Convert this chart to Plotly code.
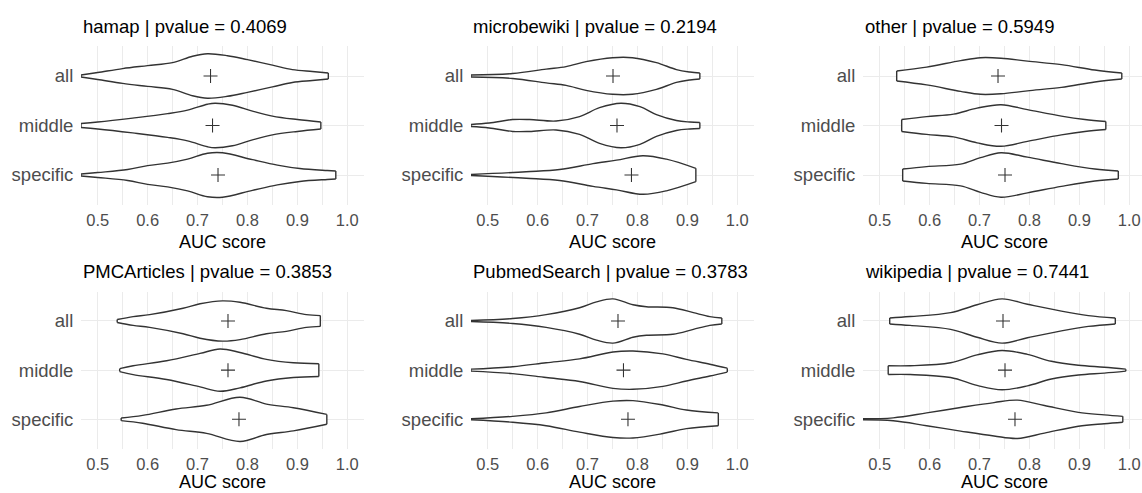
import plotly.graph_objects as go

# ---------------- data ----------------
panels = ["hamap", "microbewiki", "other", "PMCArticles", "PubmedSearch", "wikipedia"]
pvalues = ["0.4069", "0.2194", "0.5949", "0.3853", "0.3783", "0.7441"]
groups = ["all", "middle", "specific"]
group_pos = [3, 2, 1]
x_ticks = [0.5, 0.6, 0.7, 0.8, 0.9, 1.0]
x_tick_labels = ["0.5", "0.6", "0.7", "0.8", "0.9", "1.0"]

# violin outlines: AUC grid and half-width (in category units)
hamap_all_auc = [0.4665, 0.50, 0.55, 0.60, 0.65, 0.69, 0.72, 0.76, 0.80, 0.85, 0.89, 0.93, 0.962]
hamap_all_w = [0.02, 0.07, 0.15, 0.21, 0.27, 0.40, 0.45, 0.41, 0.33, 0.22, 0.13, 0.09, 0.06]
hamap_middle_auc = [0.4665, 0.50, 0.57, 0.64, 0.68, 0.72, 0.735, 0.77, 0.81, 0.85, 0.90, 0.947]
hamap_middle_w = [0.04, 0.07, 0.15, 0.24, 0.31, 0.43, 0.45, 0.41, 0.29, 0.19, 0.12, 0.07]
hamap_specific_auc = [0.4665, 0.50, 0.56, 0.60, 0.64, 0.68, 0.72, 0.75, 0.81, 0.86, 0.905, 0.96, 0.977]
hamap_specific_w = [0.02, 0.05, 0.11, 0.19, 0.24, 0.32, 0.44, 0.45, 0.31, 0.20, 0.13, 0.09, 0.08]

microbewiki_all_auc = [0.4665, 0.55, 0.617, 0.657, 0.697, 0.75, 0.79, 0.838, 0.878, 0.905, 0.925]
microbewiki_all_w = [0.02, 0.05, 0.14, 0.19, 0.29, 0.37, 0.37, 0.27, 0.13, 0.08, 0.06]
microbewiki_middle_auc = [0.4665, 0.503, 0.55, 0.584, 0.637, 0.684, 0.724, 0.767, 0.805, 0.838, 0.878, 0.905, 0.925]
microbewiki_middle_w = [0.02, 0.05, 0.12, 0.12, 0.09, 0.18, 0.36, 0.45, 0.38, 0.22, 0.10, 0.07, 0.06]
microbewiki_specific_auc = [0.4665, 0.577, 0.644, 0.711, 0.758, 0.811, 0.858, 0.917]
microbewiki_specific_w = [0.01, 0.065, 0.11, 0.23, 0.30, 0.39, 0.32, 0.135]

other_all_auc = [0.534, 0.594, 0.662, 0.702, 0.743, 0.796, 0.864, 0.931, 0.985]
other_all_w = [0.10, 0.18, 0.31, 0.37, 0.36, 0.30, 0.23, 0.12, 0.06]
other_middle_auc = [0.544, 0.594, 0.648, 0.695, 0.743, 0.796, 0.864, 0.911, 0.953]
other_middle_w = [0.12, 0.18, 0.23, 0.35, 0.42, 0.32, 0.19, 0.12, 0.08]
other_specific_auc = [0.546, 0.594, 0.662, 0.702, 0.743, 0.796, 0.864, 0.931, 0.978]
other_specific_w = [0.12, 0.17, 0.22, 0.35, 0.45, 0.36, 0.23, 0.12, 0.08]

PMCArticles_all_auc = [0.539, 0.571, 0.604, 0.671, 0.705, 0.75, 0.785, 0.838, 0.878, 0.918, 0.946]
PMCArticles_all_w = [0.03, 0.09, 0.13, 0.26, 0.35, 0.41, 0.38, 0.26, 0.21, 0.13, 0.11]
PMCArticles_middle_auc = [0.544, 0.571, 0.638, 0.705, 0.745, 0.785, 0.838, 0.892, 0.943]
PMCArticles_middle_w = [0.03, 0.09, 0.19, 0.34, 0.43, 0.36, 0.22, 0.15, 0.13]
PMCArticles_specific_auc = [0.547, 0.59, 0.657, 0.718, 0.785, 0.838, 0.892, 0.959]
PMCArticles_specific_w = [0.027, 0.08, 0.21, 0.285, 0.45, 0.31, 0.235, 0.10]

PubmedSearch_all_auc = [0.4665, 0.55, 0.617, 0.684, 0.718, 0.751, 0.791, 0.818, 0.871, 0.912, 0.945, 0.969]
PubmedSearch_all_w = [0.01, 0.05, 0.13, 0.27, 0.39, 0.45, 0.33, 0.29, 0.27, 0.17, 0.09, 0.06]
PubmedSearch_middle_auc = [0.4665, 0.55, 0.617, 0.684, 0.751, 0.791, 0.851, 0.898, 0.945, 0.98]
PubmedSearch_middle_w = [0.02, 0.07, 0.15, 0.23, 0.37, 0.39, 0.33, 0.22, 0.12, 0.04]
PubmedSearch_specific_auc = [0.4665, 0.55, 0.617, 0.684, 0.751, 0.791, 0.851, 0.898, 0.962]
PubmedSearch_specific_w = [0.01, 0.06, 0.13, 0.26, 0.37, 0.38, 0.29, 0.19, 0.13]

wikipedia_all_auc = [0.52, 0.561, 0.642, 0.695, 0.745, 0.796, 0.864, 0.918, 0.972]
wikipedia_all_w = [0.06, 0.09, 0.17, 0.33, 0.45, 0.34, 0.20, 0.11, 0.06]
wikipedia_middle_auc = [0.517, 0.561, 0.642, 0.695, 0.745, 0.796, 0.844, 0.898, 0.95, 0.993]
wikipedia_middle_w = [0.09, 0.09, 0.15, 0.31, 0.40, 0.32, 0.18, 0.10, 0.06, 0.02]
wikipedia_specific_auc = [0.4665, 0.527, 0.594, 0.662, 0.729, 0.776, 0.83, 0.898, 0.95, 0.987]
wikipedia_specific_w = [0.01, 0.03, 0.13, 0.24, 0.34, 0.39, 0.28, 0.14, 0.09, 0.06]

# group means (all, middle, specific)
hamap_means = [0.726, 0.730, 0.741]
microbewiki_means = [0.751, 0.759, 0.788]
other_means = [0.737, 0.744, 0.751]
PMCArticles_means = [0.761, 0.761, 0.783]
PubmedSearch_means = [0.761, 0.772, 0.781]
wikipedia_means = [0.747, 0.751, 0.771]

violins = {
    "hamap": [(hamap_all_auc, hamap_all_w), (hamap_middle_auc, hamap_middle_w), (hamap_specific_auc, hamap_specific_w)],
    "microbewiki": [(microbewiki_all_auc, microbewiki_all_w), (microbewiki_middle_auc, microbewiki_middle_w), (microbewiki_specific_auc, microbewiki_specific_w)],
    "other": [(other_all_auc, other_all_w), (other_middle_auc, other_middle_w), (other_specific_auc, other_specific_w)],
    "PMCArticles": [(PMCArticles_all_auc, PMCArticles_all_w), (PMCArticles_middle_auc, PMCArticles_middle_w), (PMCArticles_specific_auc, PMCArticles_specific_w)],
    "PubmedSearch": [(PubmedSearch_all_auc, PubmedSearch_all_w), (PubmedSearch_middle_auc, PubmedSearch_middle_w), (PubmedSearch_specific_auc, PubmedSearch_specific_w)],
    "wikipedia": [(wikipedia_all_auc, wikipedia_all_w), (wikipedia_middle_auc, wikipedia_middle_w), (wikipedia_specific_auc, wikipedia_specific_w)],
}
means = {
    "hamap": hamap_means, "microbewiki": microbewiki_means, "other": other_means,
    "PMCArticles": PMCArticles_means, "PubmedSearch": PubmedSearch_means, "wikipedia": wikipedia_means,
}

# ---------------- layout geometry ----------------
W, H = 1142, 493
col_px = [(81, 364), (471, 754), (863, 1142)]
row_px = [(46.3, 204.7), (291.5, 448.8)]
title_y_px = [27, 271.3]
axtitle_y_px = [242, 482]
X0 = 0.4665
full_span = 1.0335 - X0

OUTLINE = "#333333"
GRID = "#EBEBEB"
FONT = "Liberation Sans, Arial, sans-serif"

fig = go.Figure()
annotations = []

for i, name in enumerate(panels):
    r, c = divmod(i, 3)
    idx = "" if i == 0 else str(i + 1)
    xa, ya = "x" + idx, "y" + idx
    for g, (auc, w) in enumerate(violins[name]):
        cy = group_pos[g]
        low = [cy - v for v in w]
        up = [cy + v for v in w]
        fig.add_trace(go.Scatter(x=auc, y=low, mode="lines", xaxis=xa, yaxis=ya,
                                 line=dict(color=OUTLINE, width=1.4, shape="spline", smoothing=1.0),
                                 hoverinfo="skip", showlegend=False))
        fig.add_trace(go.Scatter(x=auc, y=up, mode="lines", xaxis=xa, yaxis=ya,
                                 line=dict(color=OUTLINE, width=1.4, shape="spline", smoothing=1.0),
                                 fill="tonexty", fillcolor="white",
                                 hoverinfo="skip", showlegend=False))
        fig.add_trace(go.Scatter(x=[auc[0], auc[0], None, auc[-1], auc[-1]],
                                 y=[low[0], up[0], None, low[-1], up[-1]],
                                 mode="lines", xaxis=xa, yaxis=ya,
                                 line=dict(color=OUTLINE, width=1.4),
                                 hoverinfo="skip", showlegend=False))
    fig.add_trace(go.Scatter(x=means[name], y=group_pos, mode="markers", xaxis=xa, yaxis=ya,
                             marker=dict(symbol="cross-thin", size=10,
                                         line=dict(color=OUTLINE, width=1.1)),
                             hoverinfo="skip", showlegend=False))

    x0p, x1p = col_px[c]
    y0p, y1p = row_px[r]
    xr = [X0, X0 + full_span * (x1p - x0p) / 283.0]
    fig.layout["xaxis" + idx] = dict(
        domain=[x0p / W, x1p / W], range=xr, anchor=ya,
        tickvals=x_ticks, ticktext=x_tick_labels,
        showgrid=True, gridcolor=GRID, gridwidth=1.4, zeroline=False, showline=False,
        ticks="outside", ticklen=0, tickcolor="rgba(0,0,0,0)",
        tickfont=dict(family=FONT, size=16.5, color="#4D4D4D"),
        minor=dict(tickvals=[0.55, 0.65, 0.75, 0.85, 0.95], showgrid=True, gridcolor=GRID, gridwidth=0.7),
        fixedrange=True,
    )
    fig.layout["yaxis" + idx] = dict(
        domain=[1 - y1p / H, 1 - y0p / H], range=[0.4, 3.6], anchor=xa,
        tickvals=group_pos, ticktext=groups,
        showgrid=True, gridcolor=GRID, gridwidth=1.4, zeroline=False, showline=False,
        ticks="outside", ticklen=3, tickcolor="rgba(0,0,0,0)",
        tickfont=dict(family=FONT, size=18.5, color="#4D4D4D"),
        fixedrange=True,
    )
    annotations.append(dict(text=f"{name} | pvalue = {pvalues[i]}", xref="paper", yref="paper",
                            x=x0p / W, y=1 - title_y_px[r] / H, xanchor="left", yanchor="middle",
                            showarrow=False, font=dict(family=FONT, size=18.5, color="black")))
    annotations.append(dict(text="AUC score", xref="paper", yref="paper",
                            x=(x0p + (X0 + full_span / 2 - xr[0]) / (xr[1] - xr[0]) * (x1p - x0p)) / W,
                            y=1 - axtitle_y_px[r] / H, xanchor="center", yanchor="middle",
                            showarrow=False, font=dict(family=FONT, size=18, color="black")))

fig.update_layout(width=W, height=H, margin=dict(l=0, r=0, t=0, b=0),
                  paper_bgcolor="white", plot_bgcolor="white",
                  annotations=annotations, showlegend=False)

fig.write_html("out.html")
